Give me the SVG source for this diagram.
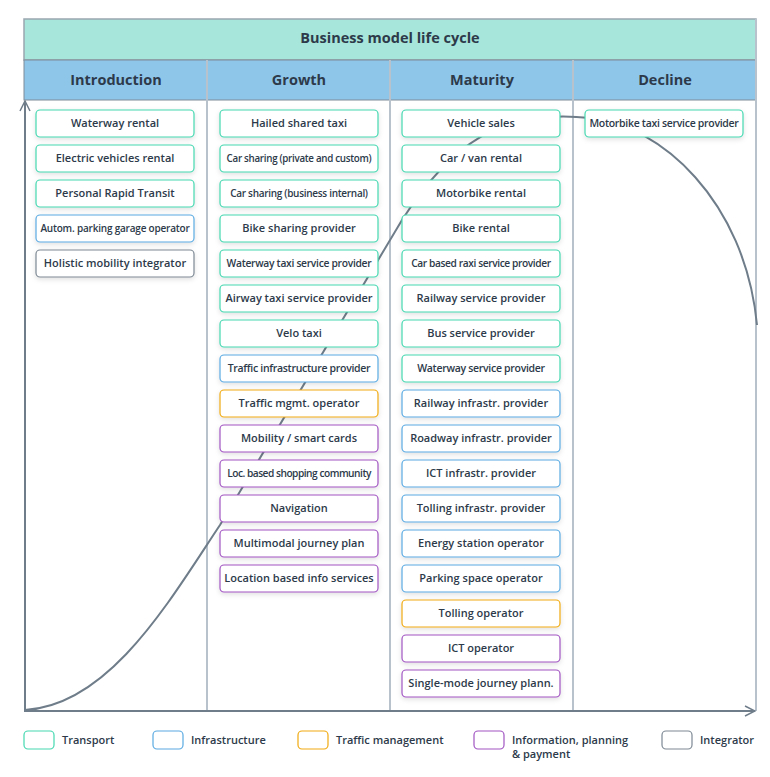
<svg xmlns="http://www.w3.org/2000/svg" width="770" height="777" viewBox="0 0 770 777">
<defs>
<style>
text{font-family:"Open Sans","Noto Sans",sans-serif;fill:#2d3a4a;font-weight:600;text-anchor:middle}
.b rect{fill:#fff;stroke-width:1.2;filter:url(#sh)}
.b text{font-size:11px}
.t rect{stroke:#44d7b0}.i rect{stroke:#5aaae2}.m rect{stroke:#f0aa10}.p rect{stroke:#a155c2}.g rect{stroke:#7d8893}
.hd{font-size:14.5px;font-weight:700}
.lg text{font-size:11px;text-anchor:start}
.lg rect{fill:#fff;stroke-width:1.2}
</style>
<filter id="sh" x="-10%" y="-30%" width="120%" height="170%"><feDropShadow dx="0" dy="2" stdDeviation="2.5" flood-color="#000" flood-opacity="0.12"/></filter>
<marker id="ar" viewBox="0 0 12 12" refX="11" refY="6" markerWidth="12" markerHeight="12" markerUnits="userSpaceOnUse" orient="auto"><path d="M1,1 L11,6 L1,11" fill="none" stroke="#6f7d8a" stroke-width="1.5"/></marker>
</defs>
<g id="frame">
<rect x="24" y="19" width="732" height="41" fill="#a7e6da" stroke="#9aa6b0" stroke-width="1.5"/>
<rect x="24" y="60" width="732" height="40" fill="#8ec6ea" stroke="#7f8c98" stroke-width="1"/>
<line x1="756" y1="19" x2="756" y2="711" stroke="#b8c2cc" stroke-width="2"/>
<g stroke="#b8c2cc" stroke-width="2"><line x1="207" y1="60" x2="207" y2="711"/><line x1="390" y1="60" x2="390" y2="711"/><line x1="573" y1="60" x2="573" y2="711"/></g>
<text x="390" y="43" style="font-size:14.5px;font-weight:700">Business model life cycle</text>
<text class="hd" x="116" y="85">Introduction</text>
<text class="hd" x="299" y="85">Growth</text>
<text class="hd" x="482" y="85">Maturity</text>
<text class="hd" x="665" y="85">Decline</text>
</g>
<g id="connectors" fill="none" stroke="#6f7d8a" stroke-width="2">
<path d="M25,711 L25,101" marker-end="url(#ar)"/>
<path d="M24,711 L755,711" marker-end="url(#ar)"/>
<path d="M25,710 C110,705 170,600 220,525 L402,220 C450,145 500,108 590,118 C660,125 745,200 757,325"/>
</g>
<g id="n1" class="b t"><rect x="36" y="110" width="158" height="27" rx="4"/><text x="115" y="127">Waterway rental</text></g>
<g id="n2" class="b t"><rect x="36" y="145" width="158" height="27" rx="4"/><text x="115" y="162">Electric vehicles rental</text></g>
<g id="n3" class="b t"><rect x="36" y="180" width="158" height="27" rx="4"/><text x="115" y="197">Personal Rapid Transit</text></g>
<g id="n4" class="b i"><rect x="36" y="215" width="158" height="27" rx="4"/><text x="115" y="232" style="font-size:10px;letter-spacing:-0.2px">Autom. parking garage operator</text></g>
<g id="n5" class="b g"><rect x="36" y="250" width="158" height="27" rx="4"/><text x="115" y="267">Holistic mobility integrator</text></g>

<g id="g1" class="b t"><rect x="220" y="110" width="158" height="27" rx="4"/><text x="299" y="127">Hailed shared taxi</text></g>
<g id="g2" class="b t"><rect x="220" y="145" width="158" height="27" rx="4"/><text x="299" y="162" style="font-size:9.8px;letter-spacing:-0.3px">Car sharing (private and custom)</text></g>
<g id="g3" class="b t"><rect x="220" y="180" width="158" height="27" rx="4"/><text x="299" y="197" style="font-size:10px;letter-spacing:-0.3px">Car sharing (business internal)</text></g>
<g id="g4" class="b t"><rect x="220" y="215" width="158" height="27" rx="4"/><text x="299" y="232">Bike sharing provider</text></g>
<g id="g5" class="b t"><rect x="220" y="250" width="158" height="27" rx="4"/><text x="299" y="267" style="font-size:10.3px;letter-spacing:-0.3px">Waterway taxi service provider</text></g>
<g id="g6" class="b t"><rect x="220" y="285" width="158" height="27" rx="4"/><text x="299" y="302">Airway taxi service provider</text></g>
<g id="g7" class="b t"><rect x="220" y="320" width="158" height="27" rx="4"/><text x="299" y="337">Velo taxi</text></g>
<g id="g8" class="b i"><rect x="220" y="355" width="158" height="27" rx="4"/><text x="299" y="372" style="font-size:10.5px;letter-spacing:-0.3px">Traffic infrastructure provider</text></g>
<g id="g9" class="b m"><rect x="220" y="390" width="158" height="27" rx="4"/><text x="299" y="407">Traffic mgmt. operator</text></g>
<g id="g10" class="b p"><rect x="220" y="425" width="158" height="27" rx="4"/><text x="299" y="442">Mobility / smart cards</text></g>
<g id="g11" class="b p"><rect x="220" y="460" width="158" height="27" rx="4"/><text x="299" y="477" style="font-size:10.2px;letter-spacing:-0.5px">Loc. based shopping community</text></g>
<g id="g12" class="b p"><rect x="220" y="495" width="158" height="27" rx="4"/><text x="299" y="512">Navigation</text></g>
<g id="g13" class="b p"><rect x="220" y="530" width="158" height="27" rx="4"/><text x="299" y="547">Multimodal journey plan</text></g>
<g id="g14" class="b p"><rect x="220" y="565" width="158" height="27" rx="4"/><text x="299" y="582">Location based info services</text></g>

<g id="m1" class="b t"><rect x="402" y="110" width="158" height="27" rx="4"/><text x="481" y="127">Vehicle sales</text></g>
<g id="m2" class="b t"><rect x="402" y="145" width="158" height="27" rx="4"/><text x="481" y="162">Car / van rental</text></g>
<g id="m3" class="b t"><rect x="402" y="180" width="158" height="27" rx="4"/><text x="481" y="197">Motorbike rental</text></g>
<g id="m4" class="b t"><rect x="402" y="215" width="158" height="27" rx="4"/><text x="481" y="232">Bike rental</text></g>
<g id="m5" class="b t"><rect x="402" y="250" width="158" height="27" rx="4"/><text x="481" y="267" style="font-size:10.2px;letter-spacing:-0.4px">Car based raxi service provider</text></g>
<g id="m6" class="b t"><rect x="402" y="285" width="158" height="27" rx="4"/><text x="481" y="302">Railway service provider</text></g>
<g id="m7" class="b t"><rect x="402" y="320" width="158" height="27" rx="4"/><text x="481" y="337">Bus service provider</text></g>
<g id="m8" class="b t"><rect x="402" y="355" width="158" height="27" rx="4"/><text x="481" y="372" style="font-size:10.5px;letter-spacing:-0.3px">Waterway service provider</text></g>
<g id="m9" class="b i"><rect x="402" y="390" width="158" height="27" rx="4"/><text x="481" y="407">Railway infrastr. provider</text></g>
<g id="m10" class="b i"><rect x="402" y="425" width="158" height="27" rx="4"/><text x="481" y="442">Roadway infrastr. provider</text></g>
<g id="m11" class="b i"><rect x="402" y="460" width="158" height="27" rx="4"/><text x="481" y="477">ICT infrastr. provider</text></g>
<g id="m12" class="b i"><rect x="402" y="495" width="158" height="27" rx="4"/><text x="481" y="512">Tolling infrastr. provider</text></g>
<g id="m13" class="b i"><rect x="402" y="530" width="158" height="27" rx="4"/><text x="481" y="547">Energy station operator</text></g>
<g id="m14" class="b i"><rect x="402" y="565" width="158" height="27" rx="4"/><text x="481" y="582">Parking space operator</text></g>
<g id="m15" class="b m"><rect x="402" y="600" width="158" height="27" rx="4"/><text x="481" y="617">Tolling operator</text></g>
<g id="m16" class="b p"><rect x="402" y="635" width="158" height="27" rx="4"/><text x="481" y="652">ICT operator</text></g>
<g id="m17" class="b p"><rect x="402" y="670" width="158" height="27" rx="4"/><text x="481" y="687">Single-mode journey plann.</text></g>

<g id="d1" class="b t"><rect x="585" y="110" width="158" height="27" rx="4"/><text x="664" y="127" style="font-size:10.5px;letter-spacing:-0.3px">Motorbike taxi service provider</text></g>

<g id="legend" class="lg">
<g class="t"><rect x="24" y="731" width="30" height="18" rx="4"/><text x="62" y="744">Transport</text></g>
<g class="i"><rect x="153" y="731" width="30" height="18" rx="4"/><text x="191" y="744">Infrastructure</text></g>
<g class="m"><rect x="298" y="731" width="30" height="18" rx="4"/><text x="336" y="744">Traffic management</text></g>
<g class="p"><rect x="474" y="731" width="30" height="18" rx="4"/><text x="512" y="744">Information, planning</text><text x="512" y="758">&amp; payment</text></g>
<g class="g"><rect x="662" y="731" width="30" height="18" rx="4"/><text x="700" y="744">Integrator</text></g>
</g>
</svg>
